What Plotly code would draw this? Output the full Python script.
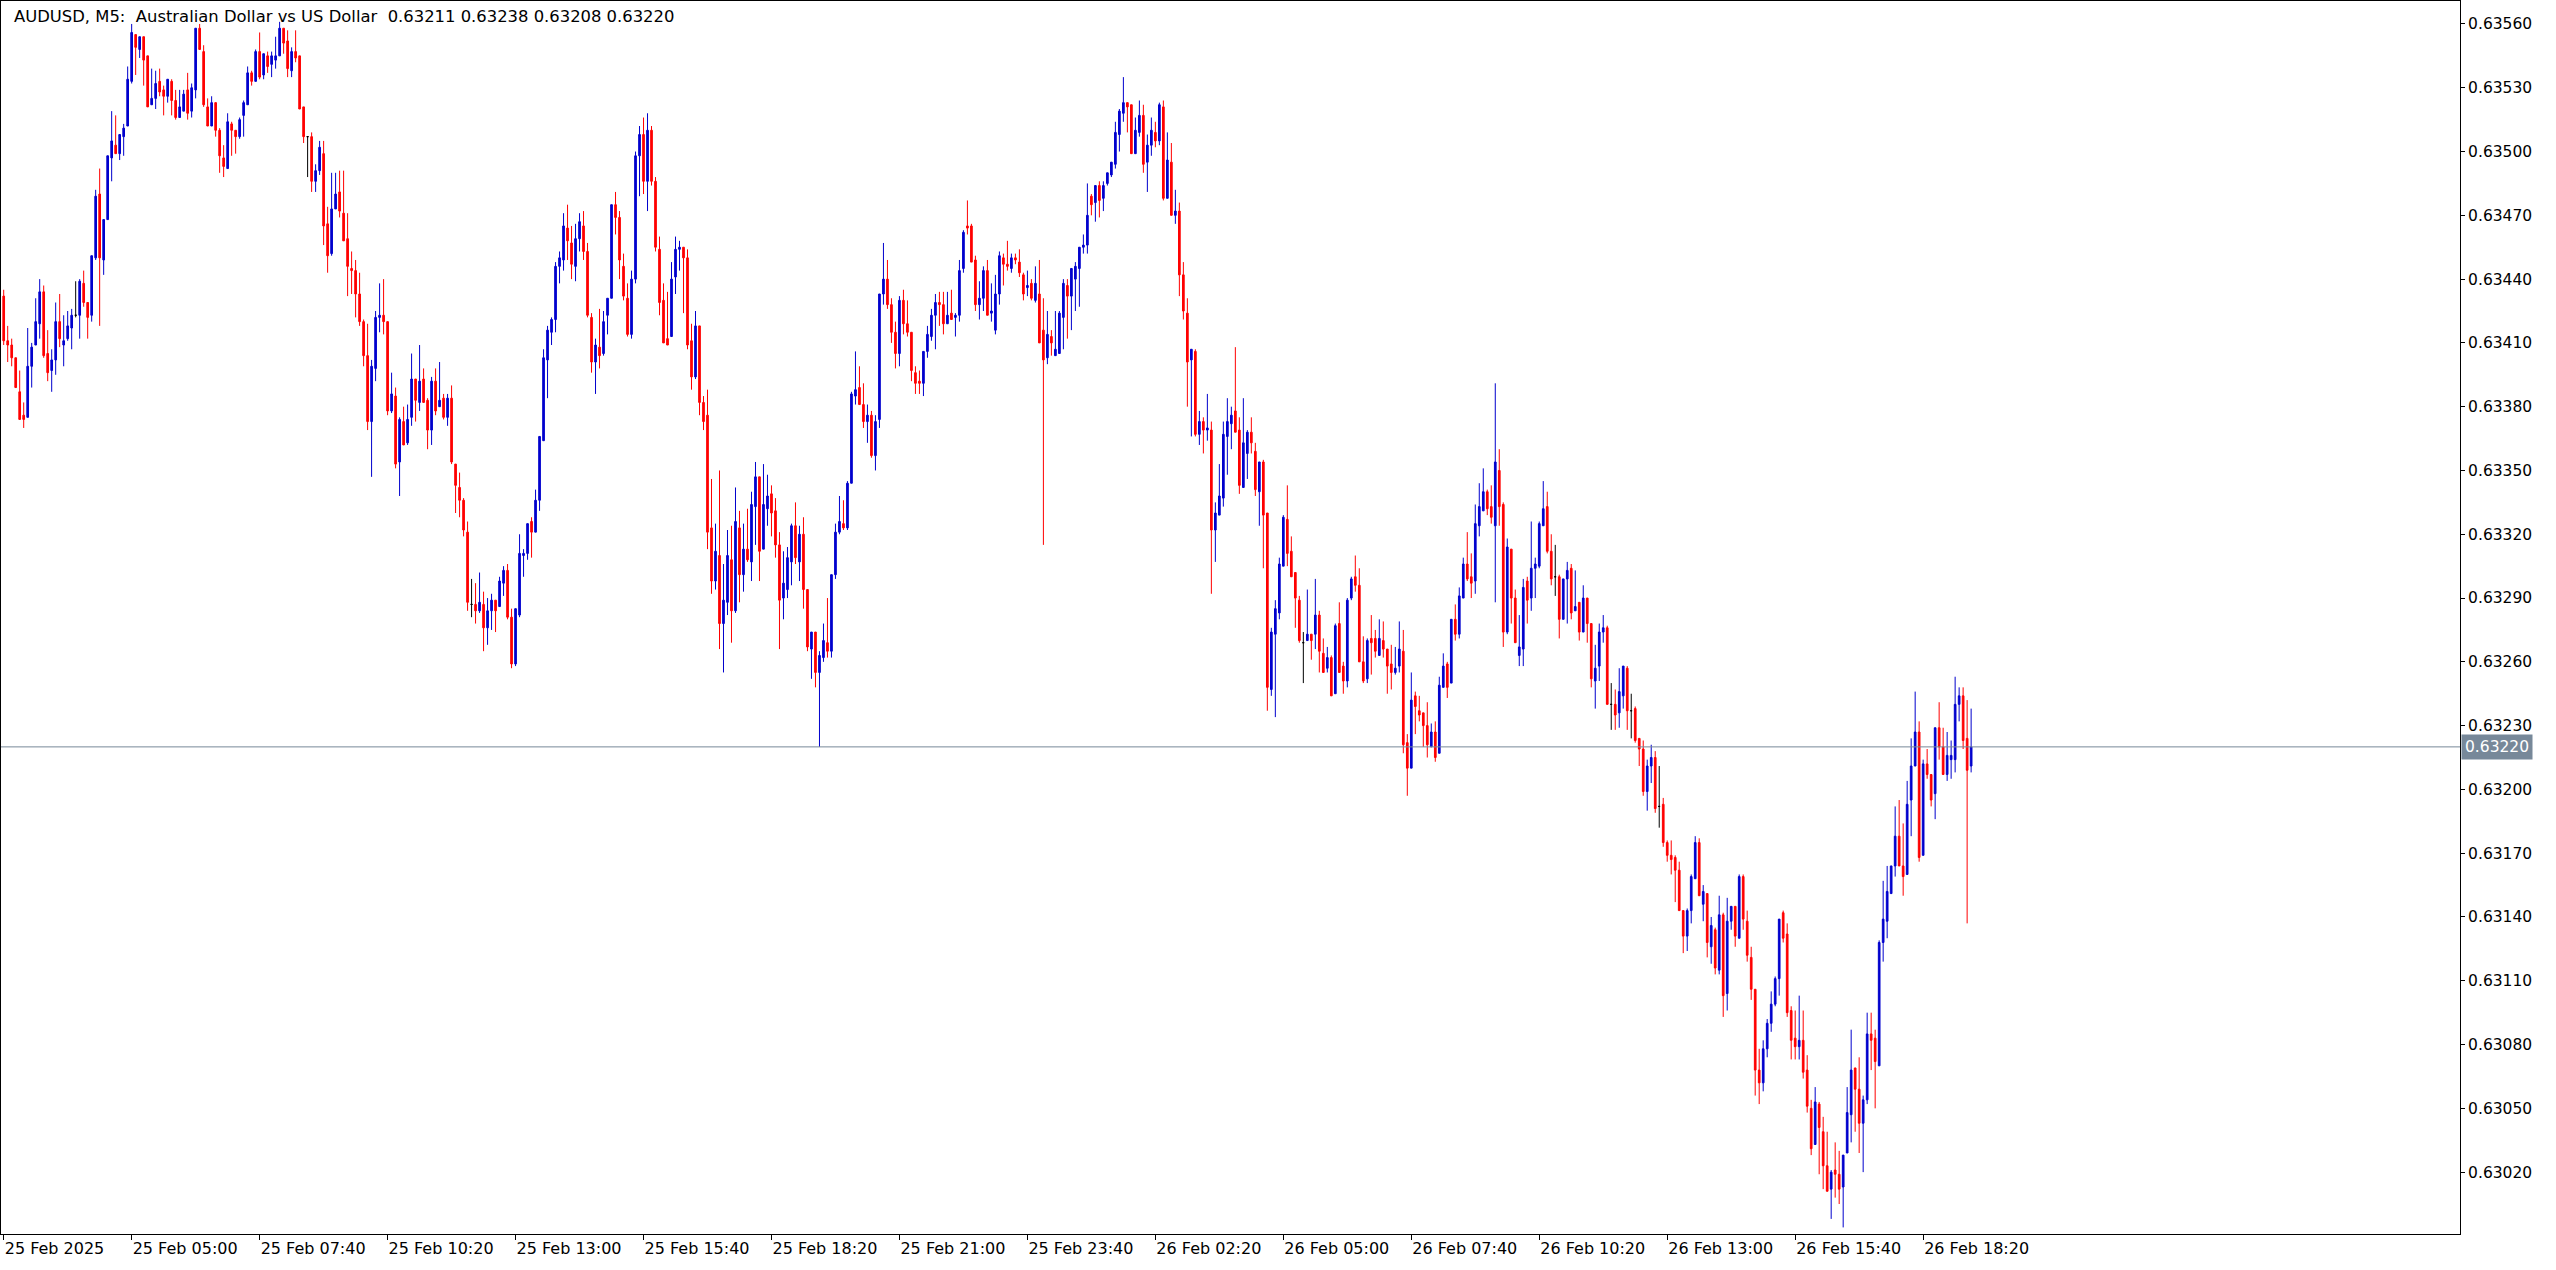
import plotly.graph_objects as go

# ---------------- data (AUDUSD, M5) ----------------
chart_title = "AUDUSD, M5:\u00a0\u00a0Australian Dollar vs US Dollar\u00a0\u00a00.63211 0.63238 0.63208 0.63220"
current_price = 0.63220

x_tick_positions = [0, 32, 64, 96, 128, 160, 192, 224, 256, 288, 320, 352, 384, 416, 448, 480]
x_tick_labels = ["25 Feb 2025", "25 Feb 05:00", "25 Feb 07:40", "25 Feb 10:20", "25 Feb 13:00",
                 "25 Feb 15:40", "25 Feb 18:20", "25 Feb 21:00", "25 Feb 23:40", "26 Feb 02:20",
                 "26 Feb 05:00", "26 Feb 07:40", "26 Feb 10:20", "26 Feb 13:00", "26 Feb 15:40",
                 "26 Feb 18:20"]
y_tick_values = [0.63020, 0.63050, 0.63080, 0.63110, 0.63140, 0.63170, 0.63200, 0.63230, 0.63260,
                 0.63290, 0.63320, 0.63350, 0.63380, 0.63410, 0.63440, 0.63470, 0.63500, 0.63530,
                 0.63560]

bar_open = [
    0.63432, 0.63411, 0.63409, 0.63403, 0.63387, 0.63376, 0.63375, 0.63399, 0.63409, 0.63419,
    0.63434, 0.63405, 0.63397, 0.63402, 0.63420, 0.63409, 0.63412, 0.63417, 0.63423, 0.63423,
    0.63438, 0.63429, 0.63423, 0.63450, 0.63480, 0.63449, 0.63468, 0.63497, 0.63503, 0.63499,
    0.63507, 0.63512, 0.63533, 0.63555, 0.63548, 0.63554, 0.63545, 0.63522, 0.63525, 0.63533,
    0.63529, 0.63526, 0.63533, 0.63524, 0.63516, 0.63519, 0.63529, 0.63519, 0.63529, 0.63558,
    0.63547, 0.63521, 0.63512, 0.63523, 0.63510, 0.63497, 0.63492, 0.63513, 0.63510, 0.63507,
    0.63517, 0.63522, 0.63537, 0.63533, 0.63547, 0.63536, 0.63545, 0.63541, 0.63543, 0.63545,
    0.63558, 0.63552, 0.63538, 0.63547, 0.63545, 0.63521, 0.63507, 0.63507, 0.63486, 0.63491,
    0.63499, 0.63466, 0.63452, 0.63473, 0.63481, 0.63471, 0.63459, 0.63445, 0.63444, 0.63433,
    0.63420, 0.63404, 0.63373, 0.63398, 0.63422, 0.63423, 0.63420, 0.63378, 0.63385, 0.63354,
    0.63373, 0.63363, 0.63375, 0.63393, 0.63382, 0.63393, 0.63383, 0.63369, 0.63392, 0.63380,
    0.63384, 0.63375, 0.63384, 0.63353, 0.63342, 0.63336, 0.63321, 0.63287, 0.63287, 0.63284,
    0.63287, 0.63276, 0.63284, 0.63289, 0.63286, 0.63297, 0.63303, 0.63281, 0.63259, 0.63282,
    0.63310, 0.63311, 0.63326, 0.63321, 0.63336, 0.63364, 0.63402, 0.63415, 0.63421, 0.63446,
    0.63449, 0.63464, 0.63457, 0.63446, 0.63459, 0.63465, 0.63453, 0.63422, 0.63401, 0.63408,
    0.63405, 0.63423, 0.63431, 0.63475, 0.63469, 0.63446, 0.63431, 0.63414, 0.63440, 0.63498,
    0.63508, 0.63486, 0.63510, 0.63486, 0.63454, 0.63430, 0.63412, 0.63413, 0.63441, 0.63454,
    0.63455, 0.63450, 0.63411, 0.63394, 0.63418, 0.63382, 0.63376, 0.63323, 0.63298, 0.63310,
    0.63278, 0.63288, 0.63308, 0.63284, 0.63323, 0.63301, 0.63313, 0.63307, 0.63333, 0.63347,
    0.63313, 0.63332, 0.63339, 0.63331, 0.63315, 0.63290, 0.63294, 0.63307, 0.63324, 0.63307,
    0.63320, 0.63294, 0.63266, 0.63274, 0.63255, 0.63262, 0.63269, 0.63265, 0.63301, 0.63321,
    0.63325, 0.63323, 0.63344, 0.63385, 0.63389, 0.63381, 0.63373, 0.63376, 0.63357, 0.63374,
    0.63433, 0.63440, 0.63428, 0.63415, 0.63405, 0.63430, 0.63419, 0.63415, 0.63396, 0.63392,
    0.63391, 0.63406, 0.63413, 0.63423, 0.63429, 0.63428, 0.63419, 0.63424, 0.63422, 0.63423,
    0.63445, 0.63465, 0.63465, 0.63449, 0.63428, 0.63431, 0.63444, 0.63424, 0.63416, 0.63433,
    0.63450, 0.63447, 0.63445, 0.63450, 0.63448, 0.63442, 0.63436, 0.63438, 0.63430, 0.63433,
    0.63416, 0.63403, 0.63413, 0.63404, 0.63405, 0.63422, 0.63437, 0.63432, 0.63440, 0.63445,
    0.63455, 0.63456, 0.63479, 0.63476, 0.63484, 0.63478, 0.63485, 0.63489, 0.63494, 0.63508,
    0.63518, 0.63523, 0.63522, 0.63499, 0.63509, 0.63517, 0.63495, 0.63503, 0.63509, 0.63505,
    0.63521, 0.63478, 0.63495, 0.63470, 0.63472, 0.63442, 0.63424, 0.63402, 0.63406, 0.63367,
    0.63373, 0.63369, 0.63369, 0.63322, 0.63329, 0.63337, 0.63366, 0.63372, 0.63378, 0.63369,
    0.63342, 0.63358, 0.63368, 0.63359, 0.63340, 0.63354, 0.63330, 0.63247, 0.63273, 0.63283,
    0.63305, 0.63327, 0.63312, 0.63302, 0.63289, 0.63269, 0.63270, 0.63273, 0.63273, 0.63282,
    0.63264, 0.63257, 0.63262, 0.63245, 0.63278, 0.63258, 0.63251, 0.63290, 0.63300, 0.63296,
    0.63260, 0.63252, 0.63271, 0.63271, 0.63263, 0.63270, 0.63266, 0.63259, 0.63255, 0.63258,
    0.63265, 0.63222, 0.63210, 0.63244, 0.63237, 0.63236, 0.63230, 0.63220, 0.63227, 0.63217,
    0.63248, 0.63259, 0.63250, 0.63280, 0.63273, 0.63290, 0.63306, 0.63300, 0.63298, 0.63324,
    0.63331, 0.63340, 0.63333, 0.63324, 0.63350, 0.63334, 0.63274, 0.63313, 0.63290, 0.63263,
    0.63266, 0.63298, 0.63290, 0.63304, 0.63305, 0.63324, 0.63333, 0.63312, 0.63300, 0.63300,
    0.63280, 0.63299, 0.63304, 0.63284, 0.63288, 0.63274, 0.63290, 0.63278, 0.63251, 0.63258,
    0.63274, 0.63276, 0.63240, 0.63240, 0.63236, 0.63244, 0.63257, 0.63237, 0.63238, 0.63224,
    0.63219, 0.63199, 0.63211, 0.63215, 0.63192, 0.63193, 0.63175, 0.63169, 0.63168, 0.63162,
    0.63143, 0.63131, 0.63143, 0.63158, 0.63175, 0.63146, 0.63151, 0.63126, 0.63134, 0.63115,
    0.63141, 0.63104, 0.63138, 0.63145, 0.63130, 0.63159, 0.63138, 0.63121, 0.63106, 0.63068,
    0.63062, 0.63078, 0.63090, 0.63099, 0.63111, 0.63142, 0.63132, 0.63096, 0.63083, 0.63079,
    0.63082, 0.63068, 0.63050, 0.63033, 0.63052, 0.63039, 0.63023, 0.63012, 0.63021, 0.63019,
    0.63013, 0.63029, 0.63047, 0.63069, 0.63059, 0.63043, 0.63054, 0.63085, 0.63083, 0.63070,
    0.63128, 0.63138, 0.63151, 0.63164, 0.63178, 0.63164, 0.63160, 0.63195, 0.63211, 0.63227,
    0.63169, 0.63212, 0.63207, 0.63198, 0.63229, 0.63220, 0.63207, 0.63214, 0.63214, 0.63240,
    0.63244, 0.63224, 0.63211,
]

bar_high = [
    0.63435, 0.63418, 0.63412, 0.63403, 0.63397, 0.63382, 0.63417, 0.63410, 0.63431, 0.63440,
    0.63437, 0.63416, 0.63407, 0.63429, 0.63433, 0.63423, 0.63425, 0.63426, 0.63439, 0.63440,
    0.63444, 0.63429, 0.63451, 0.63482, 0.63492, 0.63468, 0.63498, 0.63519, 0.63517, 0.63508,
    0.63513, 0.63540, 0.63560, 0.63555, 0.63554, 0.63554, 0.63545, 0.63539, 0.63538, 0.63539,
    0.63531, 0.63534, 0.63534, 0.63529, 0.63529, 0.63529, 0.63537, 0.63532, 0.63558, 0.63560,
    0.63550, 0.63525, 0.63526, 0.63523, 0.63511, 0.63503, 0.63518, 0.63514, 0.63510, 0.63516,
    0.63524, 0.63540, 0.63538, 0.63548, 0.63556, 0.63546, 0.63547, 0.63547, 0.63554, 0.63561,
    0.63558, 0.63557, 0.63549, 0.63557, 0.63545, 0.63521, 0.63507, 0.63509, 0.63494, 0.63505,
    0.63505, 0.63474, 0.63490, 0.63490, 0.63491, 0.63491, 0.63471, 0.63453, 0.63449, 0.63443,
    0.63421, 0.63419, 0.63402, 0.63425, 0.63438, 0.63440, 0.63420, 0.63396, 0.63389, 0.63375,
    0.63380, 0.63381, 0.63405, 0.63393, 0.63409, 0.63398, 0.63384, 0.63394, 0.63398, 0.63401,
    0.63386, 0.63386, 0.63390, 0.63353, 0.63349, 0.63337, 0.63326, 0.63299, 0.63297, 0.63302,
    0.63293, 0.63290, 0.63292, 0.63289, 0.63300, 0.63305, 0.63306, 0.63285, 0.63285, 0.63320,
    0.63313, 0.63325, 0.63328, 0.63341, 0.63366, 0.63407, 0.63418, 0.63422, 0.63448, 0.63453,
    0.63471, 0.63475, 0.63465, 0.63466, 0.63471, 0.63472, 0.63457, 0.63424, 0.63412, 0.63426,
    0.63425, 0.63431, 0.63475, 0.63481, 0.63472, 0.63452, 0.63438, 0.63444, 0.63500, 0.63512,
    0.63516, 0.63518, 0.63512, 0.63488, 0.63460, 0.63438, 0.63434, 0.63448, 0.63460, 0.63458,
    0.63455, 0.63454, 0.63419, 0.63425, 0.63418, 0.63385, 0.63388, 0.63346, 0.63325, 0.63350,
    0.63306, 0.63322, 0.63324, 0.63342, 0.63331, 0.63325, 0.63332, 0.63340, 0.63354, 0.63347,
    0.63353, 0.63348, 0.63343, 0.63337, 0.63321, 0.63312, 0.63314, 0.63325, 0.63335, 0.63324,
    0.63328, 0.63294, 0.63274, 0.63274, 0.63265, 0.63278, 0.63290, 0.63301, 0.63325, 0.63338,
    0.63336, 0.63345, 0.63387, 0.63406, 0.63399, 0.63391, 0.63381, 0.63378, 0.63376, 0.63433,
    0.63457, 0.63449, 0.63431, 0.63420, 0.63432, 0.63435, 0.63430, 0.63415, 0.63399, 0.63397,
    0.63406, 0.63418, 0.63426, 0.63433, 0.63434, 0.63434, 0.63434, 0.63435, 0.63424, 0.63449,
    0.63463, 0.63477, 0.63466, 0.63451, 0.63439, 0.63446, 0.63449, 0.63438, 0.63442, 0.63453,
    0.63452, 0.63458, 0.63452, 0.63452, 0.63454, 0.63443, 0.63444, 0.63440, 0.63446, 0.63449,
    0.63431, 0.63425, 0.63416, 0.63425, 0.63425, 0.63440, 0.63440, 0.63445, 0.63448, 0.63455,
    0.63461, 0.63485, 0.63480, 0.63484, 0.63486, 0.63486, 0.63490, 0.63495, 0.63514, 0.63520,
    0.63535, 0.63523, 0.63522, 0.63516, 0.63524, 0.63522, 0.63508, 0.63516, 0.63514, 0.63523,
    0.63524, 0.63509, 0.63504, 0.63482, 0.63476, 0.63448, 0.63431, 0.63407, 0.63407, 0.63378,
    0.63375, 0.63386, 0.63373, 0.63335, 0.63353, 0.63373, 0.63384, 0.63380, 0.63408, 0.63375,
    0.63384, 0.63369, 0.63375, 0.63363, 0.63354, 0.63355, 0.63330, 0.63276, 0.63289, 0.63309,
    0.63329, 0.63343, 0.63319, 0.63302, 0.63291, 0.63274, 0.63294, 0.63273, 0.63299, 0.63284,
    0.63271, 0.63267, 0.63263, 0.63278, 0.63288, 0.63260, 0.63290, 0.63300, 0.63310, 0.63304,
    0.63272, 0.63271, 0.63282, 0.63275, 0.63280, 0.63279, 0.63266, 0.63268, 0.63267, 0.63279,
    0.63275, 0.63226, 0.63255, 0.63246, 0.63244, 0.63236, 0.63241, 0.63231, 0.63232, 0.63253,
    0.63264, 0.63260, 0.63280, 0.63287, 0.63295, 0.63309, 0.63321, 0.63311, 0.63334, 0.63344,
    0.63351, 0.63341, 0.63343, 0.63391, 0.63360, 0.63335, 0.63318, 0.63313, 0.63294, 0.63282,
    0.63299, 0.63300, 0.63326, 0.63309, 0.63326, 0.63345, 0.63340, 0.63320, 0.63315, 0.63301,
    0.63299, 0.63307, 0.63306, 0.63303, 0.63288, 0.63296, 0.63290, 0.63278, 0.63268, 0.63278,
    0.63282, 0.63277, 0.63250, 0.63247, 0.63257, 0.63258, 0.63258, 0.63245, 0.63239, 0.63224,
    0.63223, 0.63214, 0.63221, 0.63218, 0.63211, 0.63196, 0.63176, 0.63176, 0.63169, 0.63166,
    0.63143, 0.63144, 0.63160, 0.63178, 0.63177, 0.63155, 0.63151, 0.63140, 0.63135, 0.63150,
    0.63142, 0.63149, 0.63145, 0.63145, 0.63160, 0.63160, 0.63143, 0.63126, 0.63106, 0.63078,
    0.63082, 0.63092, 0.63105, 0.63112, 0.63139, 0.63143, 0.63137, 0.63098, 0.63096, 0.63103,
    0.63096, 0.63075, 0.63054, 0.63060, 0.63053, 0.63046, 0.63039, 0.63021, 0.63034, 0.63030,
    0.63028, 0.63060, 0.63087, 0.63069, 0.63074, 0.63056, 0.63095, 0.63095, 0.63087, 0.63129,
    0.63157, 0.63164, 0.63164, 0.63192, 0.63195, 0.63184, 0.63204, 0.63224, 0.63246, 0.63232,
    0.63214, 0.63219, 0.63207, 0.63229, 0.63241, 0.63229, 0.63227, 0.63223, 0.63253, 0.63248,
    0.63248, 0.63242, 0.63238,
]

bar_low = [
    0.63409, 0.63401, 0.63399, 0.63389, 0.63374, 0.63370, 0.63375, 0.63389, 0.63409, 0.63412,
    0.63403, 0.63392, 0.63387, 0.63395, 0.63408, 0.63399, 0.63411, 0.63407, 0.63422, 0.63412,
    0.63427, 0.63412, 0.63420, 0.63449, 0.63418, 0.63442, 0.63468, 0.63486, 0.63499, 0.63496,
    0.63498, 0.63512, 0.63532, 0.63536, 0.63544, 0.63531, 0.63521, 0.63522, 0.63520, 0.63526,
    0.63517, 0.63523, 0.63517, 0.63515, 0.63516, 0.63519, 0.63515, 0.63516, 0.63525, 0.63548,
    0.63521, 0.63512, 0.63512, 0.63507, 0.63490, 0.63488, 0.63492, 0.63498, 0.63499, 0.63506,
    0.63507, 0.63522, 0.63531, 0.63533, 0.63534, 0.63534, 0.63537, 0.63535, 0.63539, 0.63545,
    0.63546, 0.63535, 0.63535, 0.63542, 0.63520, 0.63504, 0.63488, 0.63481, 0.63481, 0.63489,
    0.63456, 0.63443, 0.63451, 0.63473, 0.63469, 0.63458, 0.63432, 0.63433, 0.63422, 0.63418,
    0.63399, 0.63369, 0.63347, 0.63392, 0.63415, 0.63414, 0.63376, 0.63377, 0.63351, 0.63338,
    0.63362, 0.63362, 0.63371, 0.63373, 0.63378, 0.63382, 0.63360, 0.63362, 0.63376, 0.63380,
    0.63374, 0.63371, 0.63353, 0.63330, 0.63328, 0.63319, 0.63284, 0.63281, 0.63278, 0.63283,
    0.63265, 0.63268, 0.63275, 0.63274, 0.63286, 0.63291, 0.63280, 0.63257, 0.63258, 0.63281,
    0.63300, 0.63308, 0.63309, 0.63321, 0.63331, 0.63364, 0.63384, 0.63409, 0.63415, 0.63438,
    0.63444, 0.63449, 0.63440, 0.63439, 0.63453, 0.63449, 0.63422, 0.63396, 0.63386, 0.63398,
    0.63404, 0.63414, 0.63431, 0.63461, 0.63440, 0.63430, 0.63413, 0.63412, 0.63438, 0.63479,
    0.63480, 0.63472, 0.63484, 0.63453, 0.63423, 0.63410, 0.63409, 0.63413, 0.63433, 0.63444,
    0.63424, 0.63407, 0.63388, 0.63393, 0.63376, 0.63369, 0.63313, 0.63292, 0.63294, 0.63266,
    0.63255, 0.63282, 0.63269, 0.63283, 0.63288, 0.63293, 0.63307, 0.63298, 0.63315, 0.63298,
    0.63313, 0.63324, 0.63319, 0.63309, 0.63266, 0.63280, 0.63290, 0.63296, 0.63306, 0.63298,
    0.63285, 0.63265, 0.63252, 0.63248, 0.63220, 0.63260, 0.63262, 0.63262, 0.63299, 0.63320,
    0.63322, 0.63322, 0.63344, 0.63381, 0.63381, 0.63370, 0.63363, 0.63356, 0.63350, 0.63370,
    0.63428, 0.63426, 0.63410, 0.63398, 0.63399, 0.63414, 0.63413, 0.63392, 0.63386, 0.63386,
    0.63385, 0.63403, 0.63411, 0.63407, 0.63418, 0.63414, 0.63419, 0.63421, 0.63413, 0.63420,
    0.63443, 0.63461, 0.63448, 0.63425, 0.63421, 0.63425, 0.63423, 0.63420, 0.63414, 0.63428,
    0.63437, 0.63444, 0.63443, 0.63447, 0.63441, 0.63430, 0.63432, 0.63430, 0.63429, 0.63410,
    0.63315, 0.63400, 0.63404, 0.63404, 0.63405, 0.63407, 0.63412, 0.63416, 0.63425, 0.63427,
    0.63452, 0.63452, 0.63470, 0.63467, 0.63469, 0.63472, 0.63484, 0.63488, 0.63492, 0.63500,
    0.63514, 0.63509, 0.63499, 0.63499, 0.63507, 0.63490, 0.63481, 0.63498, 0.63502, 0.63503,
    0.63477, 0.63478, 0.63470, 0.63466, 0.63432, 0.63421, 0.63380, 0.63366, 0.63366, 0.63362,
    0.63358, 0.63364, 0.63292, 0.63307, 0.63329, 0.63333, 0.63348, 0.63360, 0.63368, 0.63339,
    0.63342, 0.63346, 0.63358, 0.63338, 0.63324, 0.63304, 0.63237, 0.63244, 0.63234, 0.63280,
    0.63305, 0.63305, 0.63300, 0.63276, 0.63269, 0.63250, 0.63270, 0.63261, 0.63266, 0.63255,
    0.63255, 0.63255, 0.63244, 0.63245, 0.63255, 0.63245, 0.63248, 0.63289, 0.63293, 0.63260,
    0.63250, 0.63250, 0.63254, 0.63262, 0.63263, 0.63262, 0.63245, 0.63247, 0.63254, 0.63255,
    0.63217, 0.63197, 0.63210, 0.63226, 0.63232, 0.63220, 0.63215, 0.63220, 0.63213, 0.63217,
    0.63248, 0.63243, 0.63250, 0.63270, 0.63271, 0.63290, 0.63298, 0.63290, 0.63292, 0.63319,
    0.63331, 0.63329, 0.63325, 0.63288, 0.63324, 0.63267, 0.63273, 0.63278, 0.63269, 0.63258,
    0.63258, 0.63278, 0.63284, 0.63290, 0.63304, 0.63324, 0.63311, 0.63296, 0.63291, 0.63271,
    0.63280, 0.63278, 0.63280, 0.63284, 0.63270, 0.63274, 0.63269, 0.63248, 0.63238, 0.63251,
    0.63269, 0.63240, 0.63228, 0.63228, 0.63229, 0.63238, 0.63228, 0.63224, 0.63222, 0.63211,
    0.63197, 0.63190, 0.63203, 0.63189, 0.63182, 0.63173, 0.63166, 0.63160, 0.63147, 0.63143,
    0.63123, 0.63124, 0.63137, 0.63158, 0.63150, 0.63138, 0.63121, 0.63118, 0.63113, 0.63113,
    0.63093, 0.63096, 0.63134, 0.63126, 0.63130, 0.63134, 0.63119, 0.63101, 0.63056, 0.63052,
    0.63058, 0.63074, 0.63086, 0.63098, 0.63103, 0.63128, 0.63093, 0.63073, 0.63073, 0.63073,
    0.63064, 0.63048, 0.63028, 0.63033, 0.63019, 0.63012, 0.63011, 0.62998, 0.63008, 0.63005,
    0.62994, 0.63029, 0.63034, 0.63039, 0.63029, 0.63020, 0.63052, 0.63068, 0.63050, 0.63070,
    0.63119, 0.63130, 0.63151, 0.63159, 0.63164, 0.63150, 0.63160, 0.63178, 0.63211, 0.63166,
    0.63169, 0.63205, 0.63192, 0.63186, 0.63214, 0.63207, 0.63204, 0.63205, 0.63208, 0.63232,
    0.63219, 0.63137, 0.63208,
]

bar_close = [
    0.63411, 0.63409, 0.63403, 0.63389, 0.63374, 0.63374, 0.63399, 0.63408, 0.63420, 0.63434,
    0.63404, 0.63396, 0.63402, 0.63420, 0.63412, 0.63411, 0.63418, 0.63423, 0.63423, 0.63439,
    0.63429, 0.63422, 0.63451, 0.63479, 0.63450, 0.63468, 0.63498, 0.63505, 0.63499, 0.63508,
    0.63511, 0.63534, 0.63556, 0.63549, 0.63554, 0.63543, 0.63521, 0.63525, 0.63532, 0.63528,
    0.63526, 0.63534, 0.63524, 0.63516, 0.63521, 0.63527, 0.63518, 0.63530, 0.63558, 0.63548,
    0.63522, 0.63512, 0.63523, 0.63510, 0.63498, 0.63493, 0.63514, 0.63510, 0.63507, 0.63515,
    0.63523, 0.63537, 0.63533, 0.63547, 0.63535, 0.63546, 0.63540, 0.63545, 0.63545, 0.63558,
    0.63551, 0.63539, 0.63547, 0.63544, 0.63520, 0.63507, 0.63507, 0.63486, 0.63491, 0.63502,
    0.63465, 0.63451, 0.63473, 0.63480, 0.63472, 0.63458, 0.63446, 0.63444, 0.63433, 0.63420,
    0.63404, 0.63373, 0.63399, 0.63422, 0.63423, 0.63420, 0.63378, 0.63386, 0.63353, 0.63374,
    0.63362, 0.63374, 0.63393, 0.63383, 0.63392, 0.63382, 0.63369, 0.63392, 0.63378, 0.63383,
    0.63375, 0.63384, 0.63354, 0.63343, 0.63336, 0.63322, 0.63288, 0.63287, 0.63284, 0.63288,
    0.63276, 0.63284, 0.63289, 0.63284, 0.63298, 0.63303, 0.63281, 0.63259, 0.63285, 0.63311,
    0.63311, 0.63325, 0.63321, 0.63336, 0.63366, 0.63403, 0.63416, 0.63421, 0.63446, 0.63450,
    0.63465, 0.63458, 0.63447, 0.63459, 0.63467, 0.63453, 0.63423, 0.63401, 0.63409, 0.63404,
    0.63420, 0.63431, 0.63475, 0.63469, 0.63449, 0.63432, 0.63414, 0.63440, 0.63498, 0.63508,
    0.63486, 0.63510, 0.63486, 0.63455, 0.63429, 0.63410, 0.63409, 0.63440, 0.63454, 0.63455,
    0.63450, 0.63409, 0.63394, 0.63418, 0.63382, 0.63373, 0.63321, 0.63298, 0.63312, 0.63278,
    0.63289, 0.63310, 0.63284, 0.63326, 0.63301, 0.63313, 0.63308, 0.63334, 0.63347, 0.63312,
    0.63334, 0.63338, 0.63330, 0.63315, 0.63289, 0.63297, 0.63309, 0.63324, 0.63309, 0.63320,
    0.63294, 0.63267, 0.63274, 0.63255, 0.63263, 0.63270, 0.63265, 0.63301, 0.63321, 0.63326,
    0.63323, 0.63344, 0.63386, 0.63388, 0.63381, 0.63373, 0.63376, 0.63357, 0.63373, 0.63433,
    0.63440, 0.63428, 0.63415, 0.63405, 0.63430, 0.63419, 0.63415, 0.63397, 0.63391, 0.63391,
    0.63406, 0.63414, 0.63423, 0.63429, 0.63428, 0.63419, 0.63423, 0.63421, 0.63423, 0.63444,
    0.63462, 0.63464, 0.63448, 0.63428, 0.63431, 0.63444, 0.63423, 0.63425, 0.63433, 0.63451,
    0.63447, 0.63446, 0.63450, 0.63449, 0.63443, 0.63433, 0.63437, 0.63431, 0.63438, 0.63410,
    0.63402, 0.63414, 0.63410, 0.63407, 0.63424, 0.63438, 0.63432, 0.63445, 0.63446, 0.63455,
    0.63456, 0.63470, 0.63475, 0.63484, 0.63477, 0.63484, 0.63490, 0.63495, 0.63509, 0.63519,
    0.63523, 0.63521, 0.63499, 0.63510, 0.63517, 0.63494, 0.63503, 0.63510, 0.63505, 0.63522,
    0.63478, 0.63496, 0.63470, 0.63472, 0.63442, 0.63425, 0.63401, 0.63407, 0.63367, 0.63373,
    0.63369, 0.63370, 0.63322, 0.63330, 0.63338, 0.63367, 0.63373, 0.63376, 0.63368, 0.63343,
    0.63363, 0.63368, 0.63363, 0.63341, 0.63354, 0.63329, 0.63248, 0.63274, 0.63285, 0.63306,
    0.63328, 0.63311, 0.63300, 0.63290, 0.63270, 0.63269, 0.63273, 0.63270, 0.63282, 0.63265,
    0.63255, 0.63262, 0.63244, 0.63277, 0.63255, 0.63251, 0.63289, 0.63299, 0.63296, 0.63260,
    0.63251, 0.63270, 0.63269, 0.63265, 0.63271, 0.63266, 0.63258, 0.63255, 0.63257, 0.63266,
    0.63221, 0.63210, 0.63242, 0.63239, 0.63235, 0.63230, 0.63221, 0.63227, 0.63215, 0.63249,
    0.63258, 0.63248, 0.63280, 0.63273, 0.63291, 0.63306, 0.63299, 0.63297, 0.63325, 0.63333,
    0.63340, 0.63332, 0.63328, 0.63354, 0.63333, 0.63274, 0.63314, 0.63290, 0.63269, 0.63267,
    0.63295, 0.63289, 0.63304, 0.63306, 0.63325, 0.63332, 0.63312, 0.63299, 0.63300, 0.63280,
    0.63299, 0.63303, 0.63283, 0.63286, 0.63274, 0.63290, 0.63278, 0.63252, 0.63257, 0.63274,
    0.63276, 0.63240, 0.63240, 0.63235, 0.63246, 0.63258, 0.63237, 0.63237, 0.63223, 0.63219,
    0.63199, 0.63211, 0.63215, 0.63191, 0.63192, 0.63175, 0.63169, 0.63167, 0.63162, 0.63143,
    0.63131, 0.63143, 0.63159, 0.63175, 0.63150, 0.63152, 0.63128, 0.63136, 0.63116, 0.63141,
    0.63103, 0.63138, 0.63145, 0.63131, 0.63159, 0.63139, 0.63122, 0.63106, 0.63068, 0.63062,
    0.63078, 0.63090, 0.63099, 0.63111, 0.63139, 0.63130, 0.63095, 0.63082, 0.63079, 0.63082,
    0.63067, 0.63051, 0.63031, 0.63053, 0.63041, 0.63023, 0.63011, 0.63020, 0.63019, 0.63012,
    0.63028, 0.63048, 0.63068, 0.63059, 0.63043, 0.63054, 0.63085, 0.63082, 0.63072, 0.63128,
    0.63139, 0.63152, 0.63164, 0.63178, 0.63164, 0.63159, 0.63193, 0.63211, 0.63227, 0.63168,
    0.63212, 0.63207, 0.63195, 0.63229, 0.63220, 0.63207, 0.63216, 0.63216, 0.63240, 0.63244,
    0.63223, 0.63209, 0.63220,
]

# ---------------- styling ----------------
BULL = "#0000CD"
BEAR = "#FF0000"
DOJI = "#000000"
PRICE_LINE = "#778899"
FONT = "DejaVu Sans"

bar_index = list(range(len(bar_close)))
is_doji = [o == c for o, c in zip(bar_open, bar_close)]


def pick(values, keep):
    return [v if k else None for v, k in zip(values, keep)]


not_doji = [not d for d in is_doji]

fig = go.Figure()
fig.add_trace(go.Candlestick(
    x=bar_index,
    open=pick(bar_open, not_doji), high=pick(bar_high, not_doji),
    low=pick(bar_low, not_doji), close=pick(bar_close, not_doji),
    increasing=dict(line=dict(color=BULL, width=1), fillcolor=BULL),
    decreasing=dict(line=dict(color=BEAR, width=1), fillcolor=BEAR),
    whiskerwidth=0, hoverinfo="skip", showlegend=False,
))
fig.add_trace(go.Candlestick(
    x=bar_index,
    open=pick(bar_open, is_doji), high=pick(bar_high, is_doji),
    low=pick(bar_low, is_doji), close=pick(bar_close, is_doji),
    increasing=dict(line=dict(color=DOJI, width=1), fillcolor=DOJI),
    decreasing=dict(line=dict(color=DOJI, width=1), fillcolor=DOJI),
    whiskerwidth=0, hoverinfo="skip", showlegend=False,
))

fig.add_hline(y=current_price, line=dict(color=PRICE_LINE, width=1))

fig.add_annotation(
    x=1, xref="paper", xanchor="left", xshift=1,
    y=current_price, yref="y", yanchor="middle",
    text=f"{current_price:.5f}", showarrow=False,
    bgcolor=PRICE_LINE, borderpad=3,
    font=dict(family=FONT, size=15.5, color="white"),
)
fig.add_annotation(
    x=0, xref="paper", xanchor="left", xshift=11,
    y=1, yref="paper", yanchor="top", yshift=-4,
    text=chart_title, showarrow=False,
    font=dict(family=FONT, size=16.4, color="black"),
)

fig.update_layout(
    width=2556, height=1270,
    margin=dict(l=1, r=96, t=1, b=36, pad=0),
    paper_bgcolor="white", plot_bgcolor="white",
    showlegend=False, boxgap=0.4,
    font=dict(family=FONT, color="black"),
    xaxis=dict(
        range=[-0.675, 614.25], rangeslider=dict(visible=False),
        showgrid=False, zeroline=False,
        tickmode="array", tickvals=x_tick_positions, ticktext=x_tick_labels,
        ticks="outside", ticklen=5, tickcolor="black", tickwidth=1,
        ticklabelposition="outside right",
        showline=True, linecolor="black", linewidth=1, mirror=True,
        tickfont=dict(family=FONT, size=16, color="black"),
    ),
    yaxis=dict(
        side="right", range=[0.629909, 0.635708],
        showgrid=False, zeroline=False,
        tickmode="array", tickvals=y_tick_values, tickformat=".5f",
        ticks="outside", ticklen=4, tickcolor="black", tickwidth=1,
        showline=True, linecolor="black", linewidth=1, mirror=True,
        tickfont=dict(family=FONT, size=15.5, color="black"),
    ),
)

fig.write_html(
    "out.html",
    config={"displayModeBar": False},
    post_script="document.body.style.margin='0';document.body.style.overflow='hidden';",
)
